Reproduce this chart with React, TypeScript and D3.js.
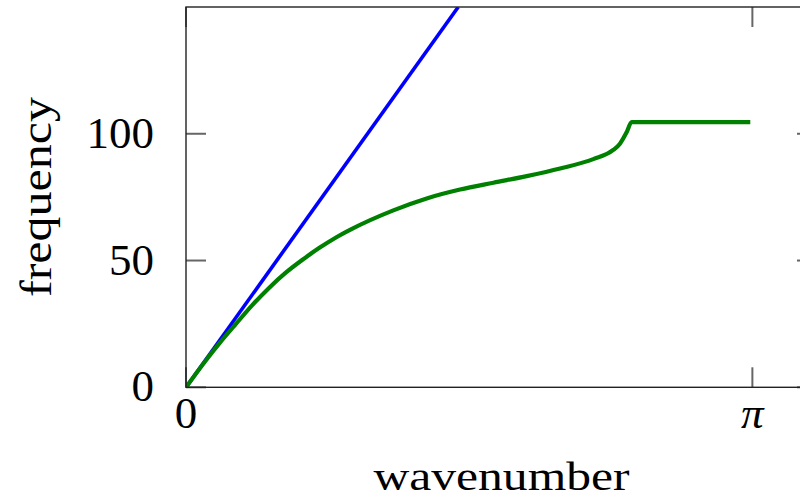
import * as d3 from 'd3';

const acousticK = [0, 1.51];
const acousticW = [0, 150];

const greenK = [0, 0.111, 0.185, 0.277, 0.37, 0.462, 0.555, 0.648, 0.74, 0.832, 0.915, 1.15, 1.335, 1.52, 1.705, 1.89, 2.075, 2.259, 2.37, 2.407, 2.444, 2.472, 3.13];
const greenW = [0, 10.7, 17.3, 25.0, 32.6, 39.3, 45.3, 50.4, 55.0, 59.1, 62.3, 69.8, 74.5, 78.0, 80.7, 83.3, 86.3, 90.0, 93.6, 96.1, 100.6, 104.6, 104.6];

const xTicks = [0, Math.PI];
const xTickLabels = ['0', 'π'];
const yTicks = [0, 50, 100];

export default function App() {
  const width = 800;
  const height = 499;
  const left = 186;
  const right = 817;
  const top = 7;
  const bottom = 387.3;
  const tick = 20;
  const font = '"Liberation Serif", "DejaVu Serif", serif';

  const x = d3.scaleLinear().domain([0, 3.5]).range([left, right]);
  const y = d3.scaleLinear().domain([0, 150]).range([bottom, top]);

  const blueLine = d3.line<number>().x((d, i) => x(acousticK[i])).y((d) => y(d));
  const greenLine = d3
    .line<number>()
    .x((d, i) => x(greenK[i]))
    .y((d) => y(d))
    .curve(d3.curveMonotoneX);

  return (
    <svg
      width={width}
      height={height}
      style={{ position: 'absolute', left: 0, top: 0, background: '#fff' }}
      fontFamily={font}
    >
      <defs>
        <clipPath id="plot-clip">
          <rect x={left} y={top} width={right - left} height={bottom - top} />
        </clipPath>
      </defs>

      {/* ticks */}
      {yTicks.map((t) => (
        <g key={`y${t}`}>
          <line x1={left} x2={left + tick} y1={y(t)} y2={y(t)} stroke="#666" strokeWidth={2} />
          <line x1={right} x2={right - tick} y1={y(t)} y2={y(t)} stroke="#666" strokeWidth={2} />
          <text x={left - 32} y={y(t) + 14} textAnchor="end" fontSize={45} fill="#000">
            {t}
          </text>
        </g>
      ))}
      {xTicks.map((t, i) => (
        <g key={`x${i}`}>
          <line x1={x(t)} x2={x(t)} y1={bottom} y2={bottom - tick} stroke="#666" strokeWidth={2} />
          <line x1={x(t)} x2={x(t)} y1={top} y2={top + tick} stroke="#666" strokeWidth={2} />
          <text
            x={x(t)}
            y={428}
            textAnchor="middle"
            fontSize={45}
            fontStyle={i === 1 ? 'italic' : 'normal'}
            fill="#000"
          >
            {xTickLabels[i]}
          </text>
        </g>
      ))}

      <g clipPath="url(#plot-clip)">
        <path d={blueLine(acousticW) ?? ''} fill="none" stroke="#0000ff" strokeWidth={3.6} />
        <path d={greenLine(greenW) ?? ''} fill="none" stroke="#008000" strokeWidth={4.2} />
      </g>

      <rect x={left} y={top} width={right - left} height={bottom - top} fill="none" stroke="#222" strokeWidth={1.4} />

      <text
        x={(left + right) / 2}
        y={490}
        textAnchor="middle"
        fontSize={40}
        textLength={256}
        lengthAdjust="spacingAndGlyphs"
        fill="#000"
      >
        wavenumber
      </text>
      <text
        transform={`translate(51,197) rotate(-90)`}
        textAnchor="middle"
        fontSize={45}
        textLength={200}
        lengthAdjust="spacingAndGlyphs"
        fill="#000"
      >
        frequency
      </text>
    </svg>
  );
}
